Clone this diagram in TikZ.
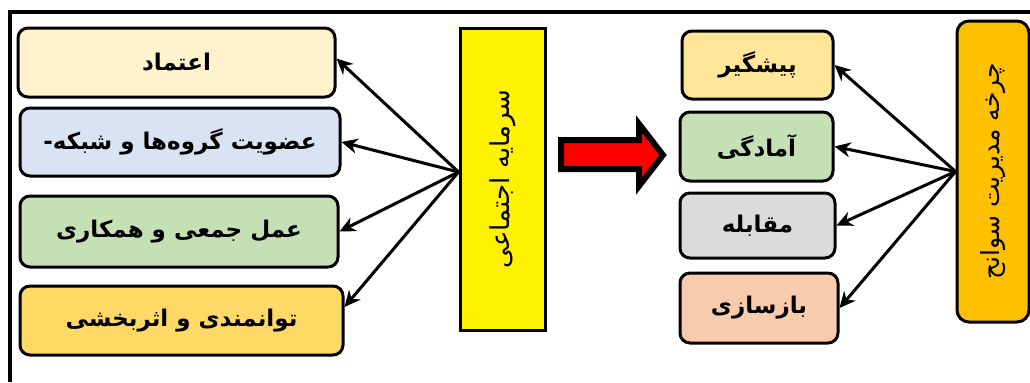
\documentclass[tikz,border=0pt]{standalone}
\usepackage{fontspec}
\newfontfamily\fa[Script=Arabic]{DejaVu Sans}
\TeXXeTstate=1
\usetikzlibrary{arrows.meta}
\definecolor{cTrust}{HTML}{FFF2CC}
\definecolor{cGroup}{HTML}{DAE3F3}
\definecolor{cWork}{HTML}{C5E0B4}
\definecolor{cPower}{HTML}{FFD966}
\definecolor{cPrev}{HTML}{FFE699}
\definecolor{cReady}{HTML}{C5E0B4}
\definecolor{cFace}{HTML}{DBDBDB}
\definecolor{cBuild}{HTML}{F8CBAD}
\definecolor{cCycle}{HTML}{FFC000}
\tikzset{
  item/.style={draw, line width=1.5pt, rounded corners=5pt, inner sep=0pt,
    font=\fa\bfseries\fontsize{11.5}{13}\selectfont},
  link/.style={line width=1.5pt, -{Stealth[length=8pt,width=7.5pt]}},
}
\begin{document}
\begin{tikzpicture}[x=0.5pt,y=-0.5pt]
        \useasboundingbox (0,0) rectangle (1030,382);
        \draw[line width=2pt] (10,382) -- (10,12) -- (1030,12);
        % left column
        \node[item, fill=cTrust, minimum width=158.5pt, minimum height=34.5pt] (l1) at (176.5,62.5) {\beginR اعتماد\endR};
        \node[item, fill=cGroup, minimum width=160pt, minimum height=34pt] (l2) at (180,142) {\beginR عضویت گروه‌ها و شبکه-\endR};
        \node[item, fill=cWork, minimum width=159pt, minimum height=35.5pt] (l3) at (179,231.5) {\beginR عمل جمعی و همکاری\endR};
        \node[item, fill=cPower, minimum width=161.5pt, minimum height=34.5pt] (l4) at (181.5,320.5) {\beginR توانمندی و اثربخشی\endR};
        \node[draw, line width=1.5pt, fill=yellow, minimum width=42.5pt, minimum height=151pt, inner sep=0pt,
          font=\fa\fontsize{13}{15}\selectfont] (capital) at (502.5,179) {\rotatebox{90}{\beginR سرمایه اجتماعی\endR}};
        \foreach \t/\s in {l1/2pt,l2/0pt,l3/0pt,l4/6.75pt}
          \draw[link] ([yshift=3.5pt]capital.west) -- ([yshift=\s]\t.east);
        % big arrow
        \draw[line width=3pt, fill=red, miter limit=4] (561,140) -- (639,140) -- (639,124) -- (663,155)
          -- (639,186) -- (639,169) -- (561,169) -- cycle;
        % right column
        \node[item, fill=cPrev, minimum width=75.5pt, minimum height=34pt] (r1) at (757.5,65) {\beginR پیشگیر\endR};
        \node[item, fill=cReady, minimum width=76.5pt, minimum height=34.5pt] (r2) at (756.5,146.5) {\beginR آمادگی\endR};
        \node[item, fill=cFace, minimum width=77.5pt, minimum height=32.5pt] (r3) at (757.5,225.5) {\beginR مقابله\endR};
        \node[item, fill=cBuild, minimum width=79pt, minimum height=35pt] (r4) at (759,308) {\beginR بازسازی\endR};
        \node[draw, line width=1.5pt, fill=cCycle, rounded corners=6pt, minimum width=36pt, minimum height=150.5pt,
          inner sep=0pt, font=\fa\fontsize{12.5}{14}\selectfont] (cycle) at (993,171.5) {\rotatebox{90}{\beginR چرخه مدیریت سوانح\endR}};
        \foreach \t in {r1,r2,r3,r4}
          \draw[link] (cycle.west) -- (\t.east);
\end{tikzpicture}
\end{document}
